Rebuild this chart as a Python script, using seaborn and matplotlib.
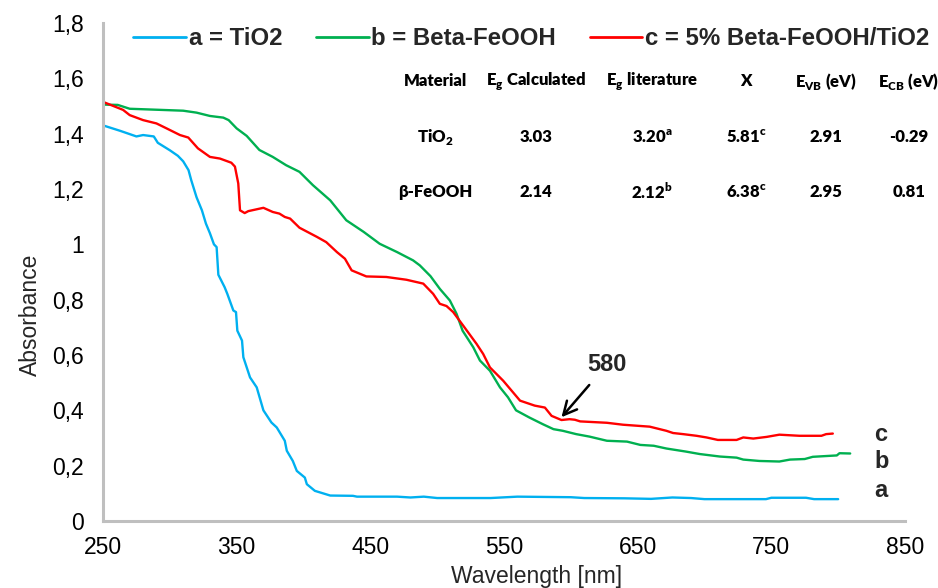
import matplotlib
matplotlib.use("Agg")
import matplotlib.pyplot as plt
from matplotlib.ticker import MultipleLocator, FixedLocator, FixedFormatter
import seaborn as sns
import pandas as pd

# ---------------- data ----------------
wl_a = [250, 263, 275, 280, 288, 291, 300, 306, 310, 314, 316, 320, 324, 327, 330,
        333, 335, 336.3, 341, 343, 347.5, 349.5, 350.5, 354, 355, 360, 365, 370, 376,
        380, 386, 387.5, 392, 395, 401, 402.5, 408.5, 420, 437, 440, 470, 480, 490,
        500, 540, 560, 600, 610, 640, 660, 676, 690, 700, 746, 750, 776, 782, 800]
abs_a = [1.43, 1.41, 1.39, 1.395, 1.39, 1.367, 1.34, 1.32, 1.30, 1.268, 1.232, 1.17,
         1.123, 1.075, 1.04, 1.00, 0.99, 0.89, 0.845, 0.821, 0.761, 0.755, 0.688,
         0.652, 0.592, 0.519, 0.483, 0.40, 0.356, 0.338, 0.29, 0.254, 0.217, 0.181,
         0.157, 0.133, 0.109, 0.092, 0.091, 0.088, 0.088, 0.085, 0.088, 0.083, 0.083,
         0.088, 0.086, 0.083, 0.082, 0.080, 0.085, 0.083, 0.079, 0.079, 0.084, 0.084,
         0.079, 0.079]

wl_b = [250, 261, 270, 293, 310, 320, 330, 340, 344, 350, 357.5, 367, 377, 387, 397,
        407, 420, 432, 445, 457, 470, 482, 487, 495, 502, 509.5, 514.5, 519, 527, 532,
        539.5, 547, 553, 559, 569, 579, 587, 594, 604, 614, 627, 642, 652, 662, 671.5,
        686, 696.5, 711.5, 724, 729, 741, 756, 764, 775, 781, 799, 801, 809]
abs_b = [1.505, 1.504, 1.49, 1.486, 1.483, 1.476, 1.464, 1.458, 1.449, 1.419, 1.392,
         1.341, 1.316, 1.286, 1.262, 1.214, 1.159, 1.087, 1.045, 1.002, 0.972, 0.942,
         0.924, 0.885, 0.839, 0.797, 0.749, 0.688, 0.628, 0.58, 0.543, 0.483, 0.447,
         0.40, 0.374, 0.35, 0.332, 0.326, 0.314, 0.305, 0.29, 0.287, 0.275, 0.272,
         0.262, 0.251, 0.242, 0.233, 0.229, 0.222, 0.217, 0.215, 0.222, 0.224, 0.232,
         0.237, 0.245, 0.244]

wl_c = [250, 265, 270, 280, 290, 297.6, 307.6, 313.8, 321, 330, 337.5, 346, 348.7,
        351.2, 352.5, 356, 358.7, 370, 377, 382, 386, 390, 397, 410, 417, 425, 431,
        436, 447, 462, 477, 489.6, 494.6, 497, 502, 507, 512, 519.5, 529.5, 534.4,
        539.5, 549.4, 555.7, 562, 573, 580.6, 585.6, 593, 599, 603, 607, 627, 639,
        659, 671.5, 676.5, 684, 694, 701.5, 710, 724, 729, 736.5, 746.5, 756, 771,
        787.5, 791, 796]
abs_c = [1.515, 1.486, 1.467, 1.449, 1.437, 1.419, 1.395, 1.386, 1.347, 1.316, 1.31,
         1.295, 1.281, 1.22, 1.123, 1.113, 1.12, 1.132, 1.117, 1.111, 1.099, 1.093,
         1.06, 1.027, 1.008, 0.972, 0.948, 0.906, 0.884, 0.882, 0.872, 0.858, 0.833,
         0.821, 0.785, 0.777, 0.755, 0.706, 0.64, 0.604, 0.555, 0.507, 0.471, 0.435,
         0.417, 0.41, 0.38, 0.365, 0.368, 0.366, 0.36, 0.355, 0.348, 0.341, 0.326,
         0.318, 0.314, 0.308, 0.302, 0.293, 0.293, 0.302, 0.298, 0.304, 0.312, 0.308,
         0.308, 0.314, 0.316]

series_labels = ["a = TiO2", "b = Beta-FeOOH", "c = 5% Beta-FeOOH/TiO2"]
series_colors = ["#00B0F0", "#00B050", "#FF0000"]
curve_tags = ["a", "b", "c"]
tag_pos_y = [0.112, 0.214, 0.311]
tag_pos_x = 827

x_ticks = [250, 350, 450, 550, 650, 750, 850]
x_ticklabels = ["250", "350", "450", "550", "650", "750", "850"]
y_ticks = [0, 0.2, 0.4, 0.6, 0.8, 1.0, 1.2, 1.4, 1.6, 1.8]
y_ticklabels = ["0", "0,2", "0,4", "0,6", "0,8", "1", "1,2", "1,4", "1,6", "1,8"]

table_header = ["Material", r"E$_{\mathregular{g}}$ Calculated",
                r"E$_{\mathregular{g}}$ literature", "X",
                r"E$_{\mathregular{VB}}$ (eV)", r"E$_{\mathregular{CB}}$ (eV)"]
table_rows = [
    [r"TiO$_{\mathregular{2}}$", "3.03", r"3.20$^{\mathregular{a}}$",
     r"5.81$^{\mathregular{c}}$", "2.91", "-0.29"],
    ["β-FeOOH", "2.14", r"2.12$^{\mathregular{b}}$",
     r"6.38$^{\mathregular{c}}$", "2.95", "0.81"],
]

# ---------------- figure ----------------
sns.set_style("white")
plt.rcParams["font.family"] = ["Liberation Sans", "DejaVu Sans"]

W, H = 938, 588
fig = plt.figure(figsize=(W / 100, H / 100), dpi=100)
ax = fig.add_axes([103 / W, 1 - 521 / H, (905 - 103) / W, (521 - 23) / H])

frames = []
for wl, ab, lab in zip([wl_a, wl_b, wl_c], [abs_a, abs_b, abs_c], series_labels):
    frames.append(pd.DataFrame({"Wavelength": wl, "Absorbance": ab, "Sample": lab}))
df = pd.concat(frames, ignore_index=True)

sns.lineplot(data=df, x="Wavelength", y="Absorbance", hue="Sample",
             hue_order=series_labels, palette=series_colors, estimator=None,
             sort=False, linewidth=1.7, ax=ax)

ax.set_xlim(250, 850)
ax.set_ylim(0, 1.8)
ax.xaxis.set_major_locator(FixedLocator(x_ticks))
ax.xaxis.set_major_formatter(FixedFormatter(x_ticklabels))
ax.yaxis.set_major_locator(FixedLocator(y_ticks))
ax.yaxis.set_major_formatter(FixedFormatter(y_ticklabels))
ax.xaxis.set_minor_locator(MultipleLocator(20))
ax.yaxis.set_minor_locator(MultipleLocator(0.04))

for s in ["top", "right"]:
    ax.spines[s].set_visible(False)
for s in ["left", "bottom"]:
    ax.spines[s].set_color("#BFBFBF")
    ax.spines[s].set_linewidth(2.2)

ax.tick_params(which="both", direction="in", color="#BFBFBF", width=1.5,
               labelsize=16.5, labelcolor="black")
ax.tick_params(which="major", length=5)
ax.tick_params(which="minor", length=5)
ax.tick_params(axis="x", which="both", pad=11)
ax.tick_params(axis="y", which="both", pad=14)

ax.set_xlabel("Wavelength [nm]", fontsize=16.5)
ax.set_ylabel("Absorbance", fontsize=16.5)
ax.xaxis.label.set_va("center")
ax.yaxis.label.set_va("center")
ax.xaxis.set_label_coords(0.54, -0.111)
ax.yaxis.set_label_coords(-0.091, 0.414)

leg = ax.legend(loc="center", bbox_to_anchor=(0.534, 0.969), ncol=3, frameon=False,
                prop={"weight": "bold", "size": 17.3}, handlelength=2.2,
                handletextpad=0.1, columnspacing=1.4, borderaxespad=0,
                borderpad=0)
for line in leg.get_lines():
    line.set_linewidth(2)

for t, yv in zip(curve_tags, tag_pos_y):
    ax.text(tag_pos_x, yv, t, fontsize=17, fontweight="bold", ha="left", va="center")

ax.annotate("580", xy=(593, 0.375), xytext=(626.7, 0.564), fontsize=17,
            fontweight="bold", ha="center", va="center",
            arrowprops=dict(arrowstyle="->", color="black", lw=1.8,
                            mutation_scale=24, shrinkA=5, shrinkB=0))

# table
col_x = [435, 536, 652, 746, 826, 909]
row_y = [81, 137, 192]
tfont = dict(family=["Lato", "Open Sans", "DejaVu Sans"], fontweight="heavy",
             fontsize=12, ha="center", va="center", color="black")
for cx, txt in zip(col_x, table_header):
    fig.text(cx / W, 1 - row_y[0] / H, txt, **tfont)
for ry, row in zip(row_y[1:], table_rows):
    for cx, txt in zip(col_x, row):
        fig.text(cx / W, 1 - ry / H, txt, **tfont)

fig.savefig("out.png", dpi=100)
